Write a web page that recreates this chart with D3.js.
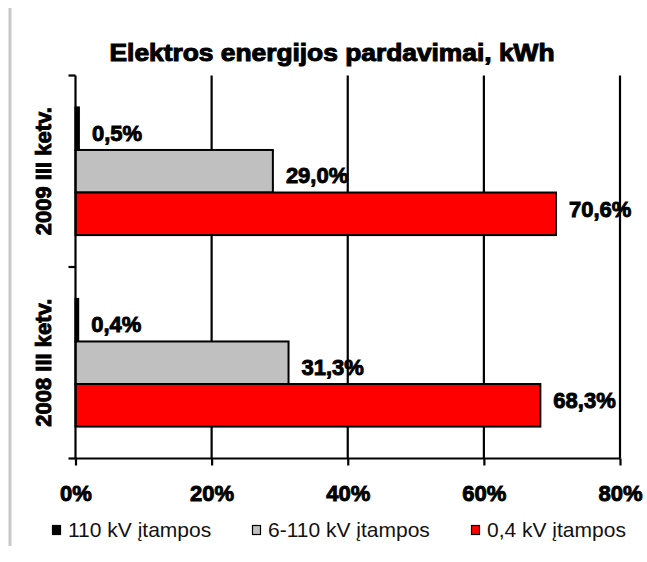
<!DOCTYPE html>
<html><head><meta charset="utf-8">
<script src="https://cdn.jsdelivr.net/npm/d3@7"></script>
<style>
body{margin:0;background:#fff;}
svg{display:block;font-family:"Liberation Sans",Arial,sans-serif;}
</style></head>
<body><svg id="c" width="647" height="562"></svg>
<script>
const title = "Elektros energijos pardavimai, kWh";
const categories = ["2009 III ketv.", "2008 III ketv."];
const seriesNames = ["110 kV įtampos", "6-110 kV įtampos", "0,4 kV įtampos"];
const seriesColors = ["#000000", "#c0c0c0", "#ff0000"];
const values110 = [0.5, 0.4];
const values6_110 = [29.0, 31.3];
const values04 = [70.6, 68.3];
const tickValues = [0, 20, 40, 60, 80];
const tickLabels = ["0%", "20%", "40%", "60%", "80%"];

(function(){
const series = [values110, values6_110, values04];
const labelDy = [4, 4, -5];
const svg = d3.select("#c");
svg.append("rect").attr("x",0).attr("y",0).attr("width",647).attr("height",562).attr("fill","#fff");
svg.append("line").attr("x1",10).attr("x2",10).attr("y1",8).attr("y2",546)
  .attr("stroke","#c8c8c8").attr("stroke-width",3);

const pL=75.5, pR=620, pT=75.5, pB=458.5;
const x = d3.scaleLinear().domain([0,80]).range([pL,pR]);
const y0 = d3.scaleBand().domain(categories).range([pT,pB]).padding(0);
const y1 = d3.scaleBand().domain(seriesNames).range([0,y0.bandwidth()]).paddingInner(0).paddingOuter(0.75);

// title
svg.append("text").attr("x",332).attr("y",61).attr("text-anchor","middle")
  .attr("font-size",23).attr("font-weight","bold").attr("stroke","#000").attr("stroke-width",1)
  .attr("textLength",445).attr("lengthAdjust","spacingAndGlyphs")
  .text(title);

// gridlines
svg.append("g").selectAll("line").data(tickValues.slice(1)).join("line")
  .attr("x1",d=>x(d)).attr("x2",d=>x(d)).attr("y1",pT).attr("y2",pB)
  .attr("stroke","#000").attr("stroke-width",2.2);

// bars
const g = svg.append("g");
categories.forEach((c,ci)=>{
  series.forEach((vals,si)=>{
    const v = vals[ci];
    const yy = y0(c)+y1(seriesNames[si]);
    g.append("rect").attr("x",x(0)).attr("y",yy)
      .attr("width",x(v)-x(0)).attr("height",y1.bandwidth())
      .attr("fill",seriesColors[si]).attr("stroke","#000").attr("stroke-width",2);
    g.append("text").attr("x",x(v)+13).attr("y",yy+y1.bandwidth()/2+labelDy[si])
      .attr("dy","0.36em")
      .attr("font-size",22).attr("font-weight","bold").attr("stroke","#000").attr("stroke-width",0.9)
      .text(d3.format(".1f")(v).replace(".",",")+"%");
  });
});

// x axis
const xAxis = d3.axisBottom(x).tickValues(tickValues).tickFormat((d,i)=>tickLabels[i]).tickSize(7).tickPadding(20);
const xa = svg.append("g").attr("transform",`translate(0,${pB})`).call(xAxis);
xa.select(".domain").attr("stroke","#000").attr("stroke-width",2.2).attr("d",`M${pL},0H${pR}`);
xa.selectAll(".tick line").attr("stroke","#000").attr("stroke-width",2.2);
xa.selectAll("text").attr("font-size",22).attr("font-weight","bold").attr("fill","#000")
  .attr("stroke","#000").attr("stroke-width",0.9).attr("font-family","Liberation Sans, Arial, sans-serif");

// y axis
const ya = svg.append("g").attr("transform",`translate(${pL},0)`);
ya.append("line").attr("x1",0).attr("x2",0).attr("y1",pT).attr("y2",pB).attr("stroke","#000").attr("stroke-width",2.2);
const yTicks = [pT, y0(categories[1]), pB];
ya.selectAll("line.t").data(yTicks).join("line").attr("class","t")
  .attr("x1",-7).attr("x2",0).attr("y1",d=>d).attr("y2",d=>d).attr("stroke","#000").attr("stroke-width",2.2);
ya.selectAll("text").data(categories).join("text")
  .attr("transform",d=>`translate(-25,${y0(d)+y0.bandwidth()/2}) rotate(-90)`)
  .attr("text-anchor","middle").attr("font-size",22).attr("font-weight","bold")
  .attr("stroke","#000").attr("stroke-width",0.9).text(d=>d);

// legend
const legX = [52, 252, 471];
const leg = svg.append("g");
seriesNames.forEach((s,i)=>{
  leg.append("rect").attr("x",legX[i]+0.5).attr("y",525.5).attr("width",8).attr("height",9)
    .attr("fill",seriesColors[i]).attr("stroke","#000").attr("stroke-width",1.2);
  leg.append("text").attr("x",legX[i]+16).attr("y",537).attr("font-size",21).attr("fill","#111").text(s);
});
})();
</script></body></html>
